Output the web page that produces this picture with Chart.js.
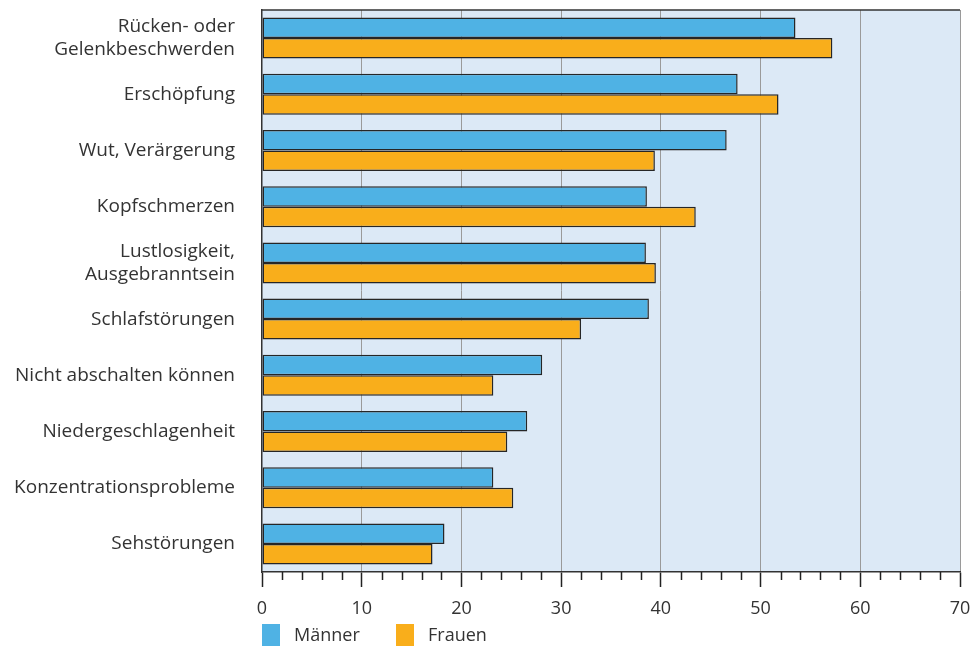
<!DOCTYPE html>
<html>
<head>
<meta charset="utf-8">
<script src="https://cdn.jsdelivr.net/npm/chart.js@4.4.1/dist/chart.umd.min.js"></script>
<style>
  html, body { margin: 0; padding: 0; background: #fff; }
  #wrap { width: 973px; height: 646px; position: relative; }
</style>
</head>
<body>
<div id="wrap"><canvas id="chart" width="973" height="646"></canvas></div>
<script>
// categories (top to bottom)
const categories = [
  ['Rücken- oder', 'Gelenkbeschwerden'],
  'Erschöpfung',
  'Wut, Verärgerung',
  'Kopfschmerzen',
  ['Lustlosigkeit,', 'Ausgebranntsein'],
  'Schlafstörungen',
  'Nicht abschalten können',
  'Niedergeschlagenheit',
  'Konzentrationsprobleme',
  'Sehstörungen'
];

// percentages
const maenner = [53.5, 47.7, 46.6, 38.6, 38.5, 38.8, 28.1, 26.6, 23.2, 18.3];
const frauen  = [57.2, 51.8, 39.4, 43.5, 39.5, 32.0, 23.2, 24.6, 25.2, 17.1];

const xTicks = [0, 10, 20, 30, 40, 50, 60, 70];

const FONT = '"Open Sans", Roboto, sans-serif';
const TEXT = '#333333';

// light blue plot background, top border, minor ticks and legend
const extras = {
  id: 'extras',
  beforeDraw(chart) {
    const { ctx, chartArea: a } = chart;
    ctx.save();
    ctx.fillStyle = '#dce9f6';
    ctx.fillRect(a.left, a.top, a.right - a.left, a.bottom - a.top);
    ctx.restore();
  },
  afterDraw(chart) {
    const { ctx, chartArea: a } = chart;
    ctx.save();
    ctx.strokeStyle = '#333';
    ctx.lineWidth = 1.5;
    ctx.beginPath();
    ctx.moveTo(a.left, a.top);
    ctx.lineTo(a.right, a.top);
    ctx.stroke();

    // minor ticks every 2 units
    const xs = chart.scales.x;
    ctx.strokeStyle = '#222';
    for (let v = 2; v < 70; v += 2) {
      if (v % 10 === 0) continue;
      const px = Math.round(xs.getPixelForValue(v)) + 0.5;
      ctx.beginPath();
      ctx.moveTo(px, a.bottom);
      ctx.lineTo(px, a.bottom + 8);
      ctx.stroke();
    }

    // legend
    const items = [
      { x: a.left, ds: chart.data.datasets[0] },
      { x: a.left + 134, ds: chart.data.datasets[1] }
    ];
    ctx.font = '18px ' + FONT;
    ctx.textBaseline = 'middle';
    items.forEach(it => {
      ctx.fillStyle = it.ds.backgroundColor;
      ctx.fillRect(it.x, 624, 18, 22);
      ctx.fillStyle = TEXT;
      ctx.fillText(it.ds.label, it.x + 32, 636);
    });
    ctx.restore();
  }
};

new Chart(document.getElementById('chart').getContext('2d'), {
  type: 'bar',
  data: {
    labels: categories,
    datasets: [
      {
        label: 'Männer',
        data: maenner,
        backgroundColor: '#4fb2e4',
        borderColor: '#262626',
        borderWidth: 1.5,
        borderSkipped: false
      },
      {
        label: 'Frauen',
        data: frauen,
        backgroundColor: '#f9ae1b',
        borderColor: '#262626',
        borderWidth: 1.5,
        borderSkipped: false
      }
    ]
  },
  options: {
    indexAxis: 'y',
    responsive: false,
    animation: false,
    datasets: {
      bar: { categoryPercentage: 0.73, barPercentage: 1.0 }
    },
    layout: { autoPadding: false, padding: { top: 10, right: 13, bottom: 0, left: 0 } },
    scales: {
      x: {
        min: 0,
        max: 70,
        afterBuildTicks(scale) {
          scale.ticks = xTicks.map(v => ({ value: v }));
        },
        afterFit(scale) {
          scale.height = 74;
          scale.paddingLeft = 0;
          scale.paddingRight = 0;
        },
        border: { display: true, color: '#333', width: 1.5 },
        grid: {
          drawOnChartArea: true,
          color: (c) => (c.tick && c.tick.value === 0 ? 'rgba(0,0,0,0)' : '#9a9a9a'),
          lineWidth: 1,
          tickLength: 15,
          tickColor: '#222',
          tickWidth: 1.5
        },
        ticks: {
          color: TEXT,
          font: { family: FONT, size: 18 },
          padding: 11,
          maxRotation: 0
        }
      },
      y: {
        afterFit(scale) {
          scale.width = 262;
          scale.paddingTop = 0;
          scale.paddingBottom = 0;
        },
        border: { display: true, color: '#333', width: 1.5 },
        grid: { display: false },
        ticks: {
          color: TEXT,
          font: { family: FONT, size: 19, lineHeight: 1.22 },
          padding: 19
        }
      }
    },
    plugins: {
      legend: { display: false },
      tooltip: { enabled: false }
    }
  },
  plugins: [extras]
});
</script>
</body>
</html>
